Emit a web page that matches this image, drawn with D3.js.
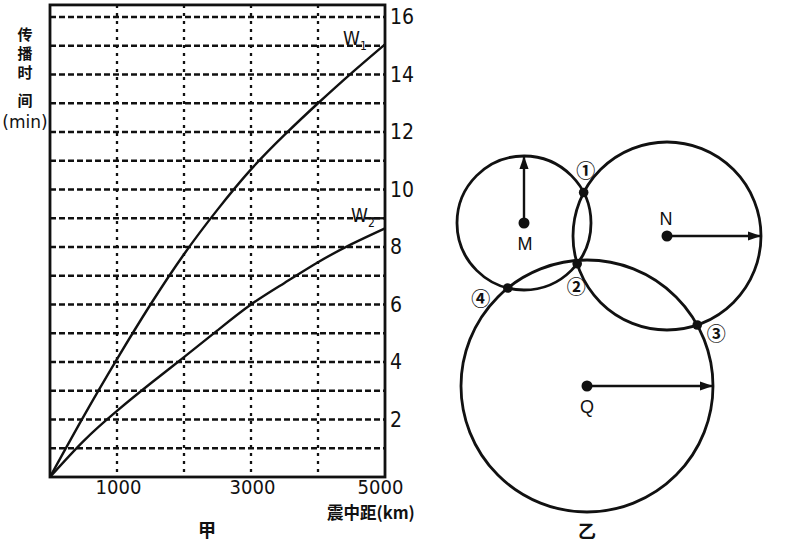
<!DOCTYPE html>
<html><head><meta charset="utf-8">
<script src="https://cdn.jsdelivr.net/npm/d3@7"></script>
<style>body{margin:0;background:#fff}svg{display:block}</style>
</head><body><svg id="c" width="786" height="546"></svg>
<script>
// ---- 甲: travel-time curves ----
const distances = [0, 500, 1000, 1500, 2000, 2500, 3000, 3500, 4000, 4500, 5000];
const w1Times   = [0, 2.1, 4.1, 6.0, 7.75, 9.3, 10.7, 11.9, 13.0, 14.05, 15.05];
const w2Times   = [0, 1.25, 2.3, 3.25, 4.17, 5.1, 6.0, 6.75, 7.47, 8.1, 8.65];
const xTickLabels = [1000, 3000, 5000];
const yTickLabels = [2, 4, 6, 8, 10, 12, 14, 16];
const xGridValues = [1000, 2000, 3000, 4000];
const yGridValues = [1, 2, 3, 4, 5, 6, 7, 8, 9, 10, 11, 12, 13, 14, 15, 16];
const yAxisTitle = ["传", "播", "时", "间"];
const yAxisUnit = "(min)";
const xAxisTitle = "震中距(km)";
const chartTitle = "甲";

// ---- 乙: circle diagram (diagram units) ----
const circleNames = ["M", "N", "Q"];
const circleCx = [69, 212, 132];
const circleCy = [93, 106, 256];
const circleR  = [67, 94, 126];
const arrowAngles = [-90, 0, 0];
const pointLabels = ["①", "②", "③", "④"];
const diagramTitle = "乙";

const svg = d3.select("#c");
const ink = "#111";

const x = d3.scaleLinear().domain([0, 5000]).range([50, 385]);
const y = d3.scaleLinear().domain([0, 16]).range([477, 17]);
const yTop = y(16.42);

// grid
const g = svg.append("g");
g.selectAll("line.hg").data(yGridValues).join("line")
  .attr("x1", x(0)).attr("x2", x(5000))
  .attr("y1", d => y(d)).attr("y2", d => y(d))
  .attr("stroke", ink).attr("stroke-width", 2.3).attr("stroke-dasharray", "6,3");
g.selectAll("line.vg").data(xGridValues).join("line")
  .attr("x1", d => x(d)).attr("x2", d => x(d))
  .attr("y1", yTop).attr("y2", y(0))
  .attr("stroke", ink).attr("stroke-width", 2.3).attr("stroke-dasharray", "3,5");

// frame
g.append("rect").attr("x", x(0)).attr("y", yTop)
  .attr("width", x(5000) - x(0)).attr("height", y(0) - yTop)
  .attr("fill", "none").attr("stroke", ink).attr("stroke-width", 2.8);

// curves
const line = d3.line().x((d, i) => x(distances[i])).y(d => y(d)).curve(d3.curveNatural);
g.append("path").attr("d", line(w1Times)).attr("fill", "none").attr("stroke", ink).attr("stroke-width", 2.4);
g.append("path").attr("d", line(w2Times)).attr("fill", "none").attr("stroke", ink).attr("stroke-width", 2.4);

// axes labels
const numFont = "'Liberation Sans Narrow','DejaVu Sans Condensed','Liberation Sans',sans-serif";
const yAxis = d3.axisRight(y).tickValues(yTickLabels).tickSize(0).tickPadding(5);
const ya = svg.append("g").attr("transform", `translate(${x(5000)},0)`).call(yAxis);
ya.select(".domain").remove();
ya.selectAll("text").attr("font-family", numFont).attr("font-size", 21).attr("fill", ink);

const xAxis = d3.axisBottom(x).tickValues(xTickLabels).tickSize(0).tickPadding(3).tickFormat(d3.format("d"));
const xa = svg.append("g").attr("transform", `translate(0,${y(0)})`).call(xAxis);
xa.select(".domain").remove();
xa.selectAll("text").attr("font-family", numFont).attr("font-size", 20).attr("fill", ink)
  .attr("dx", d => d === 5000 ? -5 : 1);

const cjk = "'Noto Sans CJK SC',sans-serif";
svg.append("text").attr("x", 327).attr("y", 519).attr("font-family", cjk)
  .attr("font-size", 16.5).attr("font-weight", "bold").attr("fill", ink).text(xAxisTitle);
svg.append("text").attr("x", 207).attr("y", 537).attr("text-anchor", "middle").attr("font-family", cjk)
  .attr("font-size", 18).attr("font-weight", "bold").attr("fill", ink).text(chartTitle);

const yAxisYs = [40, 59, 78, 106];
svg.selectAll("text.yt").data(yAxisTitle).join("text")
  .attr("x", 25).attr("y", (d, i) => yAxisYs[i]).attr("text-anchor", "middle")
  .attr("font-family", cjk).attr("font-size", 15).attr("font-weight", "bold").attr("fill", ink).text(d => d);
svg.append("text").attr("x", 25).attr("y", 128).attr("text-anchor", "middle")
  .attr("font-family", "'DejaVu Sans',sans-serif").attr("font-size", 17).attr("fill", ink).text(yAxisUnit);

// W labels
function wLabel(sub, ex, ey) {
  const t = svg.append("text").attr("x", ex).attr("y", ey)
    .attr("font-family", "'DejaVu Sans Condensed','DejaVu Sans',sans-serif").attr("font-size", 19).attr("fill", ink);
  t.append("tspan").text("W");
  t.append("tspan").attr("font-size", 12).attr("dy", 5).text(sub);
}
wLabel("1", x(5000) - 42, y(15) - 1);
wLabel("2", x(5000) - 34, y(9) + 4);
svg.append("line").attr("x1", x(5000) - 14).attr("x2", x(5000)).attr("y1", y(9)).attr("y2", y(9))
  .attr("stroke", ink).attr("stroke-width", 2.3);

// ---- 乙 ----
const dx = d3.scaleLinear().domain([0, 320]).range([455, 775]);
const dy = d3.scaleLinear().domain([0, 320]).range([130, 450]);
const circles = circleNames.map((n, i) => ({name: n, cx: circleCx[i], cy: circleCy[i], r: circleR[i], a: arrowAngles[i]}));

const defs = svg.append("defs");
defs.append("marker").attr("id", "ah").attr("viewBox", "0 0 10 10").attr("refX", 10).attr("refY", 5)
  .attr("markerWidth", 5.5).attr("markerHeight", 5.5).attr("orient", "auto")
  .append("path").attr("d", "M0,1.5 L10,5 L0,8.5 Z").attr("fill", ink);

const dg = svg.append("g");
dg.selectAll("circle.c").data(circles).join("circle")
  .attr("cx", d => dx(d.cx)).attr("cy", d => dy(d.cy)).attr("r", d => dx(d.r) - dx(0))
  .attr("fill", "none").attr("stroke", ink).attr("stroke-width", 2.8);

dg.selectAll("line.ar").data(circles).join("line")
  .attr("x1", d => dx(d.cx)).attr("y1", d => dy(d.cy))
  .attr("x2", d => dx(d.cx + d.r * Math.cos(d.a * Math.PI / 180)))
  .attr("y2", d => dy(d.cy + d.r * Math.sin(d.a * Math.PI / 180)))
  .attr("stroke", ink).attr("stroke-width", 2.4).attr("marker-end", "url(#ah)");

dg.selectAll("circle.ctr").data(circles).join("circle")
  .attr("cx", d => dx(d.cx)).attr("cy", d => dy(d.cy)).attr("r", 5.5).attr("fill", ink);

const nameOff = {M: [1, 27], N: [-1, -11], Q: [0, 27]};
dg.selectAll("text.nm").data(circles).join("text")
  .attr("x", d => dx(d.cx) + nameOff[d.name][0]).attr("y", d => dy(d.cy) + nameOff[d.name][1])
  .attr("text-anchor", "middle").attr("font-family", "'Liberation Sans',sans-serif")
  .attr("font-size", 18).attr("fill", ink).text(d => d.name);

function intersect(a, b) {
  const ddx = b.cx - a.cx, ddy = b.cy - a.cy, d = Math.hypot(ddx, ddy);
  const l = (a.r * a.r - b.r * b.r + d * d) / (2 * d);
  const h = Math.sqrt(Math.max(0, a.r * a.r - l * l));
  const mx = a.cx + l * ddx / d, my = a.cy + l * ddy / d;
  return [[mx + h * ddy / d, my - h * ddx / d], [mx - h * ddy / d, my + h * ddx / d]];
}
const [M, N, Q] = circles;
const mn = intersect(M, N), nq = intersect(N, Q), mq = intersect(M, Q);
const pick = (arr, f) => arr.slice().sort(f)[0];
const p1 = pick(mn, (a, b) => a[1] - b[1]);
const p2 = pick(mn, (a, b) => b[1] - a[1]);
const p3 = pick(nq, (a, b) => b[0] - a[0]);
const p4 = pick(mq, (a, b) => a[0] - b[0]);
const pts = [p1, p2, p3, p4];
const labOff = [[2, -23], [-1, 22], [19, 8], [-27, 9]];
dg.selectAll("circle.ip").data(pts).join("circle")
  .attr("cx", d => dx(d[0])).attr("cy", d => dy(d[1])).attr("r", 4.8).attr("fill", ink);
dg.selectAll("text.ip").data(pts).join("text")
  .attr("x", (d, i) => dx(d[0]) + labOff[i][0]).attr("y", (d, i) => dy(d[1]) + labOff[i][1])
  .attr("text-anchor", "middle").attr("dominant-baseline", "central")
  .attr("font-family", cjk).attr("font-size", 19).attr("font-weight", "bold").attr("fill", ink).text((d, i) => pointLabels[i]);

svg.append("text").attr("x", 587).attr("y", 538).attr("text-anchor", "middle").attr("font-family", cjk)
  .attr("font-size", 18).attr("font-weight", "bold").attr("fill", ink).text(diagramTitle);
</script></body></html>
